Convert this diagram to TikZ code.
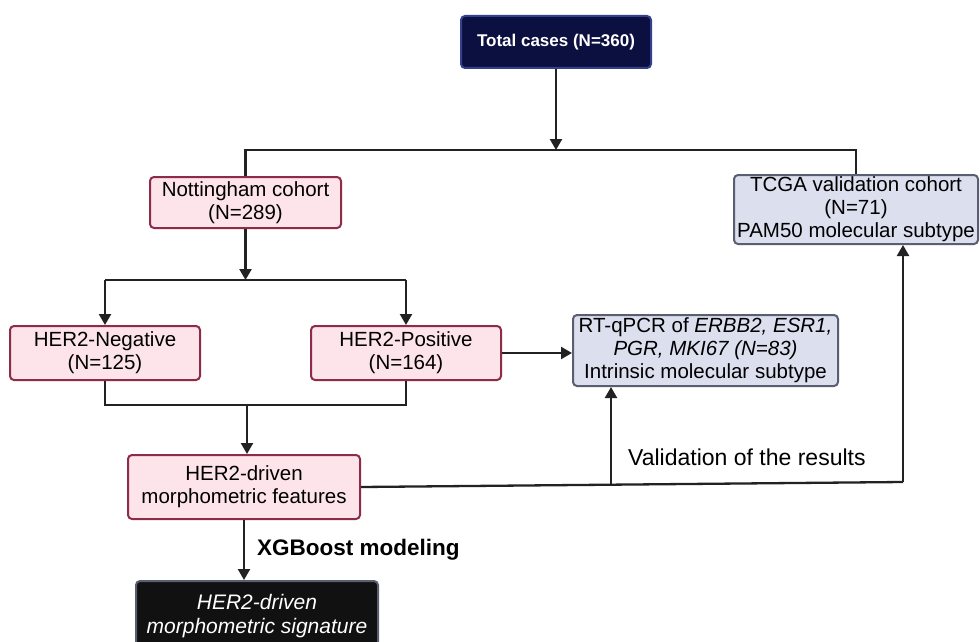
\documentclass[tikz,border=0pt]{standalone}
\usepackage{fontspec}
\setmainfont{Liberation Sans}
\usepackage{xcolor}
\usepackage{tikz}
\usetikzlibrary{positioning, arrows.meta, calc}
\definecolor{navyfill}{HTML}{0C1040}
\definecolor{navyline}{HTML}{34408A}
\definecolor{pinkfill}{HTML}{FCE4EA}
\definecolor{pinkline}{HTML}{8E2B48}
\definecolor{lavfill}{HTML}{DCDFEE}
\definecolor{lavline}{HTML}{595E70}
\definecolor{sigfill}{HTML}{111111}
\definecolor{linegray}{HTML}{222222}

\begin{document}
\begin{tikzpicture}[x=1pt, y=-1pt,
    every node/.style={font=\fontsize{20.5}{23}\selectfont, align=center, inner sep=0pt},
    pinkbox/.style={fill=pinkfill, draw=pinkline, line width=2pt, rounded corners=4pt},
    lavbox/.style={fill=lavfill, draw=lavline, line width=2pt, rounded corners=4pt},
    conn/.style={draw=linegray, line width=2.3pt},
    tip/.style={-{Triangle[length=11pt, width=12pt]}}]
    \clip (0,0) rectangle (980,642);
    \fill[white] (0,0) rectangle (980,642);

    % boxes
    \node[fill=navyfill, draw=navyline, line width=2pt, rounded corners=4pt, text=white,
          minimum width=190pt, minimum height=52pt, font=\fontsize{17}{20}\selectfont\bfseries]
          (total) at (556,42) {Total cases (N=360)};
    \node[pinkbox, minimum width=191pt, minimum height=51pt] (notts) at (245.5,202.5)
          {Nottingham cohort\\(N=289)};
    \node[lavbox, minimum width=244pt, minimum height=69pt] (tcga) at (856,209.5)
          {TCGA validation cohort\\(N=71)\\PAM50 molecular subtype};
    \node[pinkbox, minimum width=190pt, minimum height=54pt] (neg) at (105,353)
          {HER2-Negative\\(N=125)};
    \node[pinkbox, minimum width=190pt, minimum height=54pt] (pos) at (406,353)
          {HER2-Positive\\(N=164)};
    \node[lavbox, minimum width=265pt, minimum height=71pt] (rtq) at (705.5,350.5)
          {RT-qPCR of \textit{ERBB2, ESR1,}\\\textit{PGR, MKI67 (N=83)}\\Intrinsic molecular subtype};
    \node[pinkbox, minimum width=232pt, minimum height=64pt] (feat) at (244,487)
          {HER2-driven\\morphometric features};
    \node[fill=sigfill, draw=lavline, line width=2pt, rounded corners=4pt, text=white,
          minimum width=242pt, minimum height=70pt, anchor=north,
          font=\fontsize{21}{24}\selectfont\itshape] (sig) at (257,580)
          {HER2-driven\\morphometric signature};

    % connectors
    \coordinate (split1) at (556,150);
    \draw[conn, tip] (total) -- (split1);
    \draw[conn] (notts.north) |- (split1) -| (tcga.north);

    \coordinate (split2) at (245.5,280);
    \draw[conn, tip] (notts) -- (split2);
    \draw[conn] (neg.north |- split2) -- (pos.north |- split2);
    \draw[conn, tip] (neg.north |- split2) -- (neg.north);
    \draw[conn, tip] (pos.north |- split2) -- (pos.north);

    \coordinate (join1) at (247,405);
    \draw[conn] (neg.south) |- (join1) -| (pos.south);
    \draw[conn, tip] (join1) -- (feat.north -| join1);

    \draw[conn, tip] (pos.east) -- (pos.east -| rtq.west);

    \coordinate (vmid) at (611,484.5);
    \coordinate (vright) at (903,482);
    \draw[conn] (feat.east) -- (vright);
    \draw[conn, tip] (vmid) -- (vmid |- rtq.south);
    \draw[conn, tip] (vright) -- (vright |- tcga.south);
    \node[anchor=west, font=\fontsize{23}{26}\selectfont] (valtext) at (628,457) {Validation of the results};

    \draw[conn, tip] (feat.south) -- (feat.south |- sig.north);
    \node[anchor=west, font=\fontsize{22.5}{26}\selectfont\bfseries] (xgb) at (257,550) {XGBoost modeling};
\end{tikzpicture}
\end{document}
